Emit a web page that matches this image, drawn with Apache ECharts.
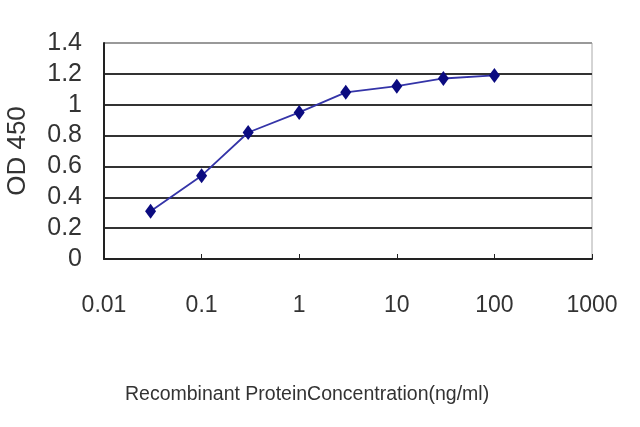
<!DOCTYPE html>
<html>
<head>
<meta charset="utf-8">
<script src="https://cdn.jsdelivr.net/npm/echarts@6/dist/echarts.min.js"></script>
<style>
  html, body { margin: 0; padding: 0; background: #fff; }
  #chart { width: 640px; height: 427px; }
</style>
</head>
<body>
<div id="chart"></div>
<script>
// concentration (ng/ml) and OD 450
var concentrations = [0.03, 0.1, 0.3, 1, 3, 10, 30, 100];
var odValues = [0.31, 0.54, 0.82, 0.95, 1.08, 1.12, 1.17, 1.19];

var points = concentrations.map(function (c, i) {
    return [c, odValues[i]];
});

var font = '"Liberation Sans", Arial, sans-serif';

var option = {
    animation: false,
    title: {
        text: 'Recombinant ProteinConcentration(ng/ml)',
        left: 120,
        top: 380,
        textStyle: {
            fontFamily: font,
            fontSize: 19.5,
            fontWeight: 'normal',
            color: '#333'
        }
    },
    grid: {
        left: 104,
        right: 48,
        top: 43,
        bottom: 168,
        outerBoundsMode: 'none',
        containLabel: false,
        show: true,
        borderColor: '#aaa',
        borderWidth: 1
    },
    xAxis: {
        type: 'log',
        logBase: 10,
        min: 0.01,
        max: 1000,
        axisLine: { show: true, lineStyle: { color: '#222', width: 2 } },
        axisTick: { show: true, inside: true, length: 5, lineStyle: { color: '#222' } },
        splitLine: { show: false },
        axisLabel: {
            margin: 35,
            fontFamily: font,
            fontSize: 23,
            color: '#333',
            formatter: function (v) { return String(v); }
        }
    },
    yAxis: {
        type: 'value',
        min: 0,
        max: 1.4,
        interval: 0.2,
        name: 'OD 450',
        nameLocation: 'middle',
        nameGap: 73,
        nameTextStyle: {
            fontFamily: font,
            fontSize: 26,
            color: '#333'
        },
        axisLine: { show: true, lineStyle: { color: '#222', width: 2 } },
        axisTick: { show: false },
        splitLine: {
            show: true,
            lineStyle: {
                color: ['#222', '#333', '#333', '#333', '#333', '#333', '#333', '#999'],
                width: 2
            }
        },
        axisLabel: {
            margin: 22,
            fontFamily: font,
            fontSize: 25,
            color: '#333',
            formatter: function (v) { return String(Math.round(v * 10) / 10); }
        }
    },
    series: [
        {
            type: 'line',
            data: points,
            symbol: 'diamond',
            symbolSize: [11, 15],
            lineStyle: { color: '#3434a8', width: 1.8 },
            itemStyle: { color: '#0b0b80' }
        }
    ]
};

var myChart = echarts.init(document.getElementById('chart'));
myChart.setOption(option);
</script>
</body>
</html>
